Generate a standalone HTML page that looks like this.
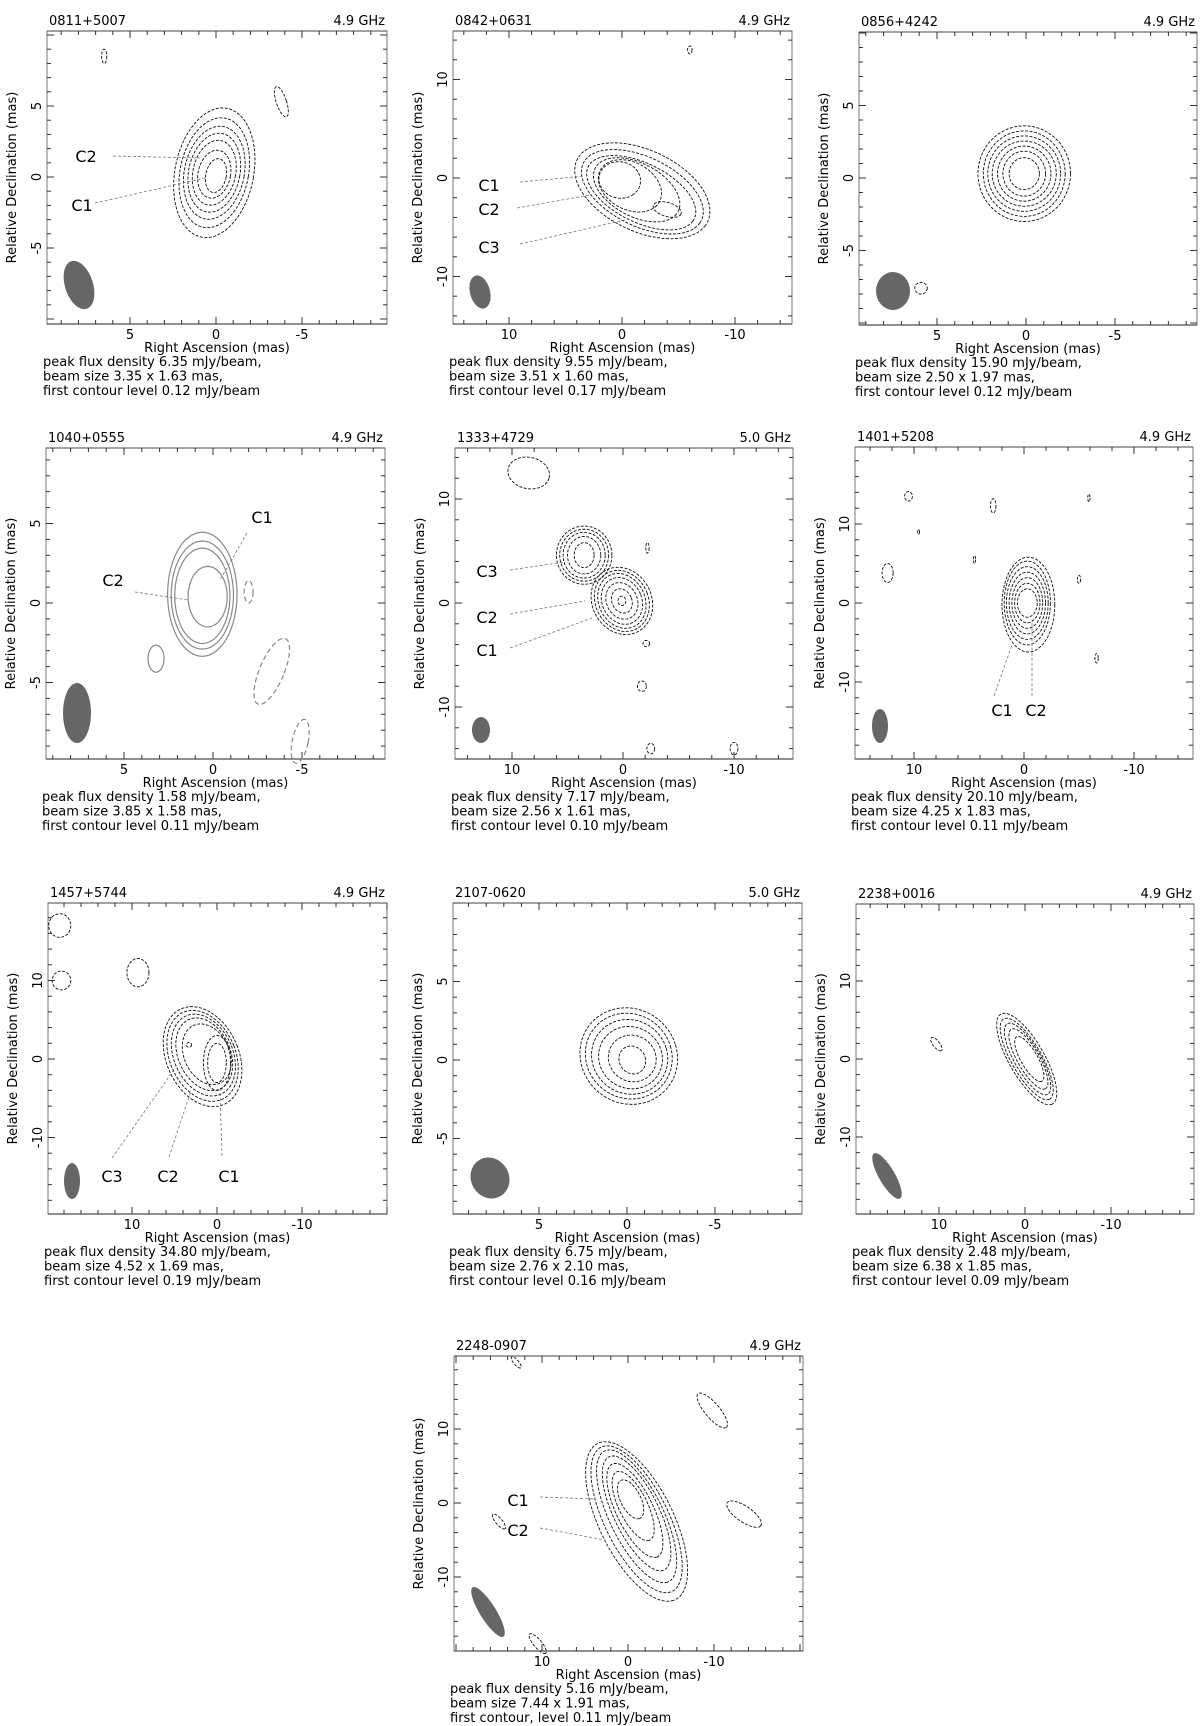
<!DOCTYPE html>
<html><head><meta charset="utf-8">
<style>
html,body{margin:0;padding:0;background:#fff;}
svg{display:block;font-family:"DejaVu Sans","Liberation Sans",sans-serif;}
</style></head>
<body>
<svg id="fig" width="1200" height="1726" viewBox="0 0 1200 1726" xmlns="http://www.w3.org/2000/svg"></svg>
<script>
// ---- data (mas coordinates; contour = [ra, dec, rx, ry, angleDeg]) ----
const panelNames = ["0811+5007","0842+0631","0856+4242","1040+0555","1333+4729","1401+5208","1457+5744","2107-0620","2238+0016","2248-0907"];
const panelFreqs = ["4.9 GHz","4.9 GHz","4.9 GHz","4.9 GHz","5.0 GHz","4.9 GHz","4.9 GHz","5.0 GHz","4.9 GHz","4.9 GHz"];
const peakFlux = ["6.35","9.55","15.90","1.58","7.17","20.10","34.80","6.75","2.48","5.16"];
const beamSizes = ["3.35 x 1.63","3.51 x 1.60","2.50 x 1.97","3.85 x 1.58","2.56 x 1.61","4.25 x 1.83","4.52 x 1.69","2.76 x 2.10","6.38 x 1.85","7.44 x 1.91"];
const firstLevels = ["0.12","0.17","0.12","0.11","0.10","0.11","0.19","0.16","0.09","0.11"];
const xTicks = [[5,0,-5],[10,0,-10],[5,0,-5],[5,0,-5],[10,0,-10],[10,0,-10],[10,0,-10],[5,0,-5],[10,0,-10],[10,0,-10]];
const yTicks = [[5,0,-5],[10,0,-10],[5,0,-5],[5,0,-5],[10,0,-10],[10,0,-10],[10,0,-10],[5,0,-5],[10,0,-10],[10,0,-10]];
const contours0 = [[0.1,0.3,2.3,4.6,8],[0.1,0.3,2.0,3.9,8],[0.1,0.3,1.75,3.3,8],[0.1,0.3,1.5,2.8,8],[0.1,0.3,1.25,2.3,8],[0.1,0.2,0.95,1.7,8],[0.0,0.1,0.6,1.2,8],[6.5,8.5,0.15,0.5,0],[-3.8,5.3,0.3,1.1,-15]];
const contours1 = [[-1.8,-1.3,6.6,4.0,32],[-1.8,-1.4,6.0,3.4,32],[-1.7,-1.5,5.4,2.9,32],[-1.3,-1.2,4.3,2.6,35],[-0.7,-0.8,3.1,2.3,40],[0.2,-0.2,1.9,1.8,50],[-4.0,-3.2,1.3,0.7,20],[-6,13,0.2,0.4,0]];
const contours2 = [[0.1,0.3,2.6,3.3,0],[0.1,0.3,2.3,2.95,0],[0.1,0.3,2.05,2.6,0],[0.1,0.3,1.8,2.25,0],[0.1,0.3,1.5,1.9,0],[0.1,0.3,1.2,1.55,0],[0.1,0.3,0.85,1.1,0],[5.9,-7.6,0.35,0.4,0]];
const contours3 = [[0.6,0.55,1.95,3.9,0],[0.6,0.5,1.75,3.4,0],[0.6,0.45,1.55,3.0,0],[0.3,0.4,1.1,1.9,0],[3.2,-3.5,0.45,0.85,0]];
const contours3neg = [[-2.0,0.7,0.25,0.7,0],[-3.3,-4.3,0.7,2.2,20],[-4.9,-8.7,0.45,1.4,10]];
const contours4 = [[0.1,0.2,2.7,3.3,-20],[0.1,0.2,2.4,3.0,-20],[0.1,0.2,2.1,2.7,-20],[0.1,0.2,1.8,2.3,-20],[0.1,0.2,1.4,1.8,-20],[0.1,0.2,0.9,1.2,-20],[0.1,0.2,0.35,0.45,0],[3.5,4.6,2.5,2.8,0],[3.5,4.6,2.2,2.5,0],[3.5,4.6,1.9,2.2,0],[3.5,4.6,1.5,1.8,0],[3.5,4.6,0.9,1.2,0],[8.5,12.5,1.9,1.5,15],[-2.2,5.3,0.15,0.5,0],[-2.1,-3.9,0.3,0.3,0],[-1.7,-8.0,0.4,0.5,0],[-2.5,-14,0.35,0.5,0],[-10,-14,0.35,0.6,0]];
const contours5 = [[-0.4,-0.2,2.4,6.0,0],[-0.3,0,2.1,5.3,0],[-0.3,0,1.9,4.6,0],[-0.3,0,1.65,3.9,0],[-0.3,0,1.4,3.2,0],[-0.3,0,1.15,2.5,0],[-0.3,0,0.9,1.8,0],[10.5,13.5,0.35,0.6,0],[2.8,12.3,0.25,0.9,0],[9.6,9,0.1,0.3,0],[4.5,5.5,0.1,0.5,0],[12.4,3.8,0.5,1.2,0],[-5,3,0.15,0.5,0],[-5.9,13.3,0.1,0.5,0],[-6.6,-7,0.15,0.6,0]];
const contours6 = [[1.7,0.3,4.3,6.6,-20],[1.7,0.4,3.9,6.0,-20],[1.6,0.5,3.5,5.4,-20],[1.5,0.6,3.1,4.8,-20],[1.2,0.6,2.7,4.0,-20],[0,-0.5,1.6,3.5,0],[0,-0.5,1.1,2.5,0],[3.3,1.8,0.3,0.3,0],[18.5,17,1.3,1.5,0],[18.3,10,1.1,1.2,0],[9.3,11,1.3,1.8,0]];
const contours7 = [[-0.1,0.25,2.75,3.1,-15],[-0.1,0.25,2.45,2.75,-15],[-0.15,0.2,2.15,2.4,-15],[-0.2,0.15,1.8,2.0,-15],[-0.3,0.1,1.35,1.5,-15],[-0.3,0.0,0.75,0.9,-15]];
const contours8 = [[-0.2,0,6.5,2.1,63],[-0.2,0,5.8,1.8,63],[-0.3,0,5.1,1.55,63],[-0.4,0,4.3,1.3,63],[-0.5,0,3.2,1.0,63],[10.3,1.9,1.0,0.4,55]];
const contours9 = [[-1,-2.5,11.5,4.4,68],[-1,-2.2,10.6,3.8,68],[-1,-1.8,9.6,3.2,68],[-1,-1.4,8.3,2.7,68],[-0.8,-1,6.8,2.2,68],[-0.6,-0.4,5,1.7,68],[-0.3,0.5,2.8,1.2,68],[13,19,0.9,0.3,55],[-9.8,12.5,2.8,0.9,55],[-13.5,-1.5,2.5,1.0,40],[15,-2.5,1.2,0.4,55],[10.5,-19,1.6,0.5,55]];
const allContours = [contours0,contours1,contours2,contours3,contours4,contours5,contours6,contours7,contours8,contours9];

// ---- layout (pixels) ----
const boxes = [[47,31,387,324,216,177,17.2,14.2],[453,31,792,324,622,178,11.3,9.85],[859,32,1197,325,1026,178,17.8,14.5],
 [46,448,385,759,213,603,17.8,15.9],[455,448,793,759,623,603,11.1,10.4],[855,447,1193,759,1024,603,11.0,7.9],
 [48,903,387,1214,217,1059,8.5,7.85],[453,903,802,1214,627,1060,17.6,15.7],[856,904,1194,1214,1025,1059,8.6,7.8],[454,1356,803,1651,628,1503,8.6,7.4]];
const beams = [[79,285,14,25,-18],[480,292,10,17,-15],[893,291,17,19,0],[77,713,14,30,0],[481,730,9,13,0],[880,726,8,17,0],[72,1181,8,18,0],[490,1178,19,21,-30],[887,1176,26,8,60],[488,1612,29,8,58]];
const labels = [
 [["C2",86,162,113,156,200,158],["C1",82,211,95,203,205,178]],
 [["C1",489,191,520,182,585,176],["C2",489,215,517,208,590,195],["C3",489,253,520,244,625,220]],
 [],
 [["C1",262,523,247,533,220,580],["C2",113,586,135,592,188,600]],
 [["C3",487,577,510,570,565,562],["C2",487,623,510,614,585,601],["C1",487,656,510,648,592,618]],
 [["C1",1002,716,994,696,1012,645],["C2",1036,716,1032,696,1032,620]],
 [["C3",112,1182,112,1158,173,1071],["C2",168,1182,169,1157,191,1091],["C1",229,1182,222,1156,220,1090]],
 [],[],
 [["C1",518,1506,540,1497,595,1499],["C2",518,1536,540,1528,605,1540]]
];
const NS="http://www.w3.org/2000/svg";
const fig=document.getElementById('fig');
function mk(tag,attrs,parent){const e=document.createElementNS(NS,tag);for(const k in attrs)e.setAttribute(k,attrs[k]);(parent||fig).appendChild(e);return e;}
function ellPath(b,c){const [ra,dec,rx,ry,ang]=c;const t=ang*Math.PI/180;let d='';
 for(let i=0;i<=64;i++){const a=i/64*2*Math.PI;const u=rx*Math.cos(a),v=ry*Math.sin(a);
  const X=u*Math.cos(t)-v*Math.sin(t),Y=u*Math.sin(t)+v*Math.cos(t);
  const px=b[4]-ra*b[6]+X*b[6],py=b[5]-dec*b[7]+Y*b[7];d+=(i?'L':'M')+px.toFixed(1)+' '+py.toFixed(1);}
 return d+'Z';}
for(let p=0;p<10;p++){
 const b=boxes[p];
 const g=mk('g',{});
 
 
 const [x1,y1,x2,y2,x0,y0,sx,sy]=b;
 const frame=mk('rect',{x:x1,y:y1,width:x2-x1,height:y2-y1,fill:'none',stroke:'#777','stroke-width':1},g);
 
 
 mk('line',{x1:x1,y1:y2,x2:x2,y2:y2,stroke:'#222','stroke-width':1},g);
 mk('line',{x1:x1,y1:y1,x2:x2,y2:y1,stroke:'#444','stroke-width':1},g);
 const step=xTicks[p][0]-xTicks[p][1];const minor=step/5;
 const xr=(x0-x1)/sx, xl=(x2-x0)/sx;
 for(let v=Math.ceil(-xl/minor)*minor; v<=xr; v+=minor){const px=x0-v*sx;const maj=Math.abs(Math.round(v/step)*step-v)<1e-6;const L=maj?7:4;
  mk('line',{x1:px,y1:y2,x2:px,y2:y2-L,stroke:'#333'},g);mk('line',{x1:px,y1:y1,x2:px,y2:y1+L,stroke:'#333'},g);}
 const yt=(y0-y1)/sy, yb=(y2-y0)/sy;
 for(let v=Math.ceil(-yb/minor)*minor; v<=yt; v+=minor){const py=y0-v*sy;const maj=Math.abs(Math.round(v/step)*step-v)<1e-6;const L=maj?7:4;
  mk('line',{x1:x1,y1:py,x2:x1+L,y2:py,stroke:'#333'},g);mk('line',{x1:x2,y1:py,x2:x2-L,y2:py,stroke:'#333'},g);}
 xTicks[p].forEach(v=>{const t=mk('text',{x:x0-v*sx,y:y2+15,'font-size':13,'text-anchor':'middle'},g);t.textContent=String(v);
  });
 yTicks[p].forEach(v=>{const py=y0-v*sy;const t=mk('text',{x:0,y:0,'font-size':13,'text-anchor':'middle',transform:`translate(${x1-6},${py}) rotate(-90)`},g);t.textContent=String(v);
  });
 const tt=mk('text',{x:x1+2,y:y1-6,'font-size':13},g);tt.textContent=panelNames[p];
 
 const tf=mk('text',{x:x2-2,y:y1-6,'font-size':13,'text-anchor':'end'},g);tf.textContent=panelFreqs[p];
 
 const xa=mk('text',{x:(x1+x2)/2,y:y2+28,'font-size':13,'text-anchor':'middle'},g);xa.textContent='Right Ascension (mas)';
 
 const ya=mk('text',{x:0,y:0,'font-size':13,'text-anchor':'middle',transform:`translate(${x1-31},${(y1+y2)/2}) rotate(-90)`},g);ya.textContent='Relative Declination (mas)';
 
 const lines=['peak flux density '+peakFlux[p]+' mJy/beam,','beam size '+beamSizes[p]+' mas,',(p==9?'first contour, level ':'first contour level ')+firstLevels[p]+' mJy/beam'];
 lines.forEach((s,i)=>{const t=mk('text',{x:x1-4,y:y2+42+i*14.5,'font-size':13},g);t.textContent=s;
  });
 const bm=beams[p];
 const be=mk('ellipse',{cx:bm[0],cy:bm[1],rx:bm[2],ry:bm[3],fill:'#666',transform:`rotate(${bm[4]} ${bm[0]} ${bm[1]})`},g);
 
 const col=p==3?'#888':'#111';const dash=p==3?'none':'3 1.5';
 allContours[p].forEach(c=>{const e=mk('path',{d:ellPath(b,c),fill:'none',stroke:col,'stroke-width':p==3?1.2:0.9,'stroke-dasharray':dash},g);
  });
 if(p==3) contours3neg.forEach(c=>{const e=mk('path',{d:ellPath(b,c),fill:'none',stroke:'#888','stroke-width':1.2,'stroke-dasharray':'5 3'},g);
  });
 labels[p].forEach(l=>{const t=mk('text',{x:l[1],y:l[2],'font-size':16,'text-anchor':'middle'},g);t.textContent=l[0];
  
  const ln=mk('line',{x1:l[3],y1:l[4],x2:l[5],y2:l[6],stroke:'#777','stroke-width':0.8,'stroke-dasharray':'3 2'},g);
  });
}
</script>
</body></html>
